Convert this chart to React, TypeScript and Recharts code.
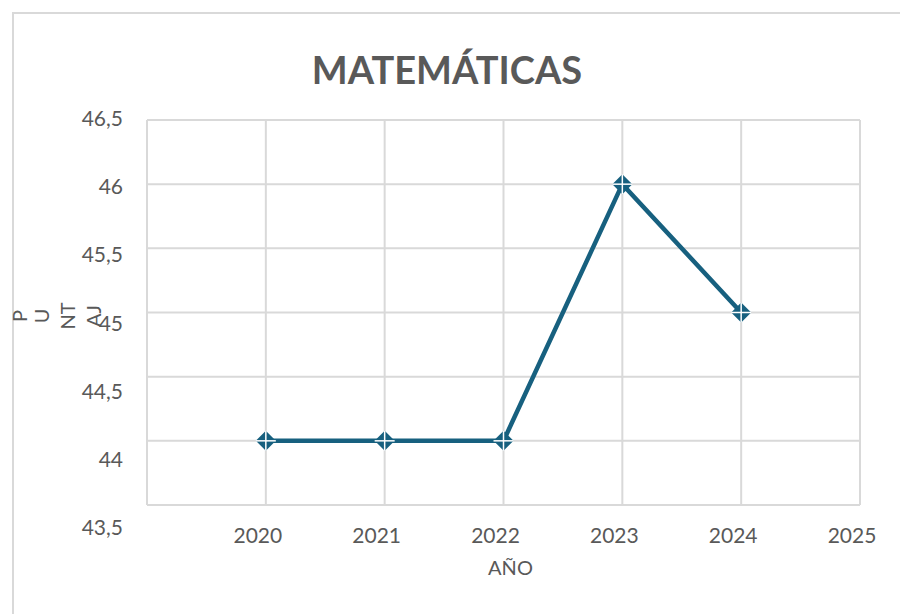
import { CartesianGrid, Line, LineChart, XAxis, YAxis } from "recharts";

const years = ["2019", "2020", "2021", "2022", "2023", "2024", "2025"];
const puntaje: Array<number | null> = [null, 44, 44, 44, 46, 45, null];
const yTicks = [43.5, 44, 44.5, 45, 45.5, 46, 46.5];
const yTitleParts = ["P", "U", "NT", "AJ"];

const data = years.map((year, i) => ({ year, puntaje: puntaje[i] }));

const LINE_COLOR = "#17607f";
const TEXT_COLOR = "#595959";
const FONT = "Lato, 'Open Sans', sans-serif";

const YTick = (props: any) => {
  const { x, y, payload } = props;
  // las etiquetas del original van bajando un poco respecto a la rejilla
  const shift = (46.5 - payload.value) * 8 + 6;
  return (
    <text
      x={x - 16}
      y={y + shift}
      textAnchor="end"
      fill={TEXT_COLOR}
      fontSize={21}
      fontFamily={FONT}
    >
      {String(payload.value).replace(".", ",")}
    </text>
  );
};

const XTick = (props: any) => {
  const { x, y, payload, index } = props;
  if (index === 0) return null;
  return (
    <text
      x={x - 8}
      y={y + 30}
      textAnchor="middle"
      fill={TEXT_COLOR}
      fontSize={21}
      fontFamily={FONT}
    >
      {payload.value}
    </text>
  );
};

const Diamond = (props: any) => {
  const { cx, cy } = props;
  if (cx == null || cy == null) return null;
  const r = 10;
  return (
    <g>
      <path
        d={`M${cx - r},${cy} L${cx},${cy - r} L${cx + r},${cy} L${cx},${cy + r} Z`}
        fill={LINE_COLOR}
      />
      <line x1={cx - r} y1={cy} x2={cx + r} y2={cy} stroke="#fff" strokeWidth={1.5} />
      <line x1={cx} y1={cy - r} x2={cx} y2={cy + r} stroke="#fff" strokeWidth={1.5} />
    </g>
  );
};

export default function App() {
  return (
    <div
      style={{
        position: "absolute",
        left: 0,
        top: 0,
        width: 900,
        height: 614,
        background: "#fff",
        overflow: "hidden",
        fontFamily: FONT,
      }}
    >
      <div
        style={{
          position: "absolute",
          left: 12,
          top: 12,
          width: 1000,
          height: 700,
          border: "2px solid #d9d9d9",
        }}
      />
      <div
        style={{
          position: "absolute",
          left: 0,
          top: 46,
          width: 894,
          textAlign: "center",
          fontSize: 38,
          fontWeight: 700,
          color: TEXT_COLOR,
        }}
      >
        MATEMÁTICAS
      </div>
      {yTitleParts.map((part, i) => (
        <div
          key={part}
          style={{
            position: "absolute",
            left: [19, 41, 67, 93][i] - 30,
            top: 306,
            width: 60,
            textAlign: "center",
            fontSize: 20,
            color: TEXT_COLOR,
            transform: "rotate(-90deg)",
            lineHeight: "20px",
          }}
        >
          {part}
        </div>
      ))}
      <LineChart
        width={900}
        height={614}
        data={data}
        margin={{ top: 120, right: 40, bottom: 69, left: 87 }}
        style={{ position: "absolute", left: 0, top: 0 }}
      >
        <CartesianGrid stroke="#d9d9d9" strokeWidth={2} />
        <XAxis
          dataKey="year"
          height={40}
          axisLine={false}
          tickLine={false}
          tick={<XTick />}
          interval={0}
          label={{
            value: "AÑO",
            position: "insideBottom",
            offset: -30,
            fill: TEXT_COLOR,
            fontSize: 20,
            fontFamily: FONT,
            dx: 7,
          }}
        />
        <YAxis
          width={60}
          domain={[43.5, 46.5]}
          ticks={yTicks}
          axisLine={false}
          tickLine={false}
          tick={<YTick />}
          interval={0}
        />
        <Line
          type="linear"
          dataKey="puntaje"
          stroke={LINE_COLOR}
          strokeWidth={4.5}
          dot={<Diamond />}
          activeDot={false}
          isAnimationActive={false}
        />
      </LineChart>
    </div>
  );
}
